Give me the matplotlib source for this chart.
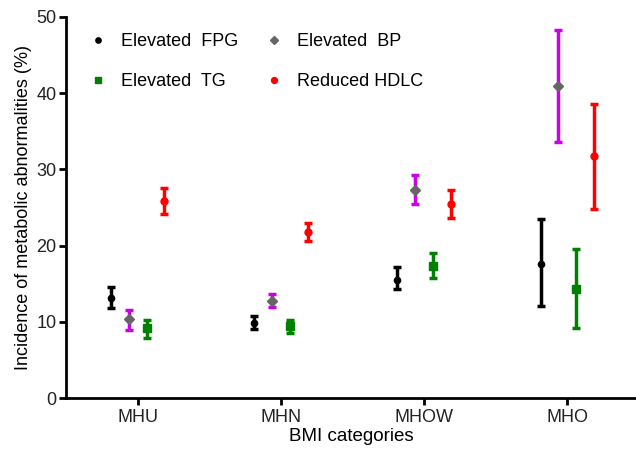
import numpy as np
import matplotlib.pyplot as plt

plt.rcParams['font.family'] = ['Liberation Sans', 'DejaVu Sans']

# BMI categories and incidence (%) with lower / upper confidence limits
categories = ['MHU', 'MHN', 'MHOW', 'MHO']

fpg = [13.1, 9.9, 15.5, 17.6]
fpg_lo = [11.8, 9.1, 14.3, 12.1]
fpg_hi = [14.6, 10.8, 17.2, 23.5]

bp = [10.4, 12.8, 27.3, 40.9]
bp_lo = [9.0, 11.9, 25.4, 33.6]
bp_hi = [11.5, 13.7, 29.3, 48.3]

tg = [9.2, 9.45, 17.3, 14.3]
tg_lo = [7.9, 8.6, 15.7, 9.2]
tg_hi = [10.2, 10.3, 19.0, 19.5]

hdlc = [25.8, 21.8, 25.5, 31.7]
hdlc_lo = [24.1, 20.6, 23.6, 24.8]
hdlc_hi = [27.6, 22.9, 27.3, 38.5]

series = [
    ('Elevated  FPG', fpg, fpg_lo, fpg_hi, 'o', 'black', 'black', 4.5),
    ('Elevated  BP', bp, bp_lo, bp_hi, 'D', '#666666', '#CC00E6', 5),
    ('Elevated  TG', tg, tg_lo, tg_hi, 's', '#008000', '#008000', 5.5),
    ('Reduced HDLC', hdlc, hdlc_lo, hdlc_hi, 'o', '#FF0000', '#FF0000', 5),
]

fig = plt.figure(figsize=(6.36, 4.53), dpi=100)
ax = fig.add_axes([0.104, 0.121, 0.896, 0.842])

x = np.arange(len(categories))
step = 0.124
handles = {}
for i, (name, mean, lo, hi, mk, mc, ec, ms) in enumerate(series):
    xs = x + (i - 1.5) * step
    mean = np.array(mean)
    err = [mean - np.array(lo), np.array(hi) - mean]
    ax.errorbar(xs, mean, yerr=err, fmt='none', ecolor=ec, elinewidth=2.5,
                capsize=3, capthick=2.5, zorder=2)
    h, = ax.plot(xs, mean, linestyle='none', marker=mk, color=mc, markersize=ms,
                 label=name, zorder=3)
    handles[name] = h

ax.set_xlim(-0.5, 3.48)
ax.set_ylim(0, 50)
ax.set_yticks([0, 10, 20, 30, 40, 50])
ax.set_xticks(x)
ax.set_xticklabels(categories)

for s in ['top', 'right']:
    ax.spines[s].set_visible(False)
for s in ['left', 'bottom']:
    ax.spines[s].set_linewidth(2)
ax.tick_params(axis='both', width=2, length=5, labelsize=13, colors='black',
               labelcolor='#222222')
ax.tick_params(axis='x', pad=3)
ax.tick_params(axis='y', pad=2)

ax.set_xlabel('BMI categories', fontsize=13.5, labelpad=1)
ax.set_ylabel('Incidence of metabolic abnormalities (%)', fontsize=13, labelpad=3)

# legend rows: FPG / BP, then TG / HDLC (matplotlib fills by column)
order = ['Elevated  FPG', 'Elevated  TG', 'Elevated  BP', 'Reduced HDLC']
ax.legend([handles[k] for k in order], order, loc='upper left',
          bbox_to_anchor=(0.011, 1.0), ncol=2, frameon=False,
          fontsize=13, handlelength=1.0, handletextpad=0.8, columnspacing=1.45,
          labelspacing=1.3, markerscale=0.85)

fig.savefig('out.png', dpi=100)
